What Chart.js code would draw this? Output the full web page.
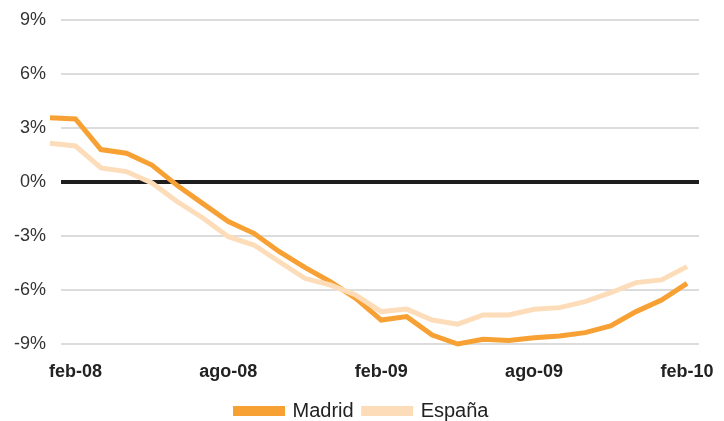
<!DOCTYPE html>
<html>
<head>
<meta charset="utf-8">
<script src="https://cdn.jsdelivr.net/npm/chart.js@4/dist/chart.umd.min.js"></script>
<style>
  html, body { margin: 0; padding: 0; background: #ffffff; }
  #wrap { width: 724px; height: 421px; }
</style>
</head>
<body>
<div id="wrap"><canvas id="c" width="724" height="421"></canvas></div>
<script>
// Monthly year-on-year change (%), Jan 2008 – Feb 2010
const months = [
  'ene-08','feb-08','mar-08','abr-08','may-08','jun-08','jul-08','ago-08','sep-08','oct-08','nov-08','dic-08',
  'ene-09','feb-09','mar-09','abr-09','may-09','jun-09','jul-09','ago-09','sep-09','oct-09','nov-09','dic-09',
  'ene-10','feb-10'
];
const madrid = [3.57, 3.5, 1.8, 1.6, 0.94, -0.2, -1.2, -2.2, -2.85, -3.87, -4.74, -5.54, -6.46,
                -7.67, -7.48, -8.5, -9.0, -8.74, -8.8, -8.65, -8.56, -8.37, -8.0, -7.2, -6.56, -5.63];
const espana = [2.15, 2.0, 0.78, 0.58, -0.05, -1.1, -2.0, -3.04, -3.5, -4.43, -5.35, -5.72, -6.28,
                -7.2, -7.06, -7.67, -7.9, -7.39, -7.39, -7.07, -6.98, -6.65, -6.15, -5.59, -5.44, -4.7];
const xTickLabels = ['feb-08', 'ago-08', 'feb-09', 'ago-09', 'feb-10'];
const yTicks = [-9, -6, -3, 0, 3, 6, 9];

const toPoints = arr => arr.map((v, i) => ({ x: i, y: v }));
const xTickValues = xTickLabels.map(l => months.indexOf(l));
const FONT = '"Liberation Sans", Arial, Helvetica, sans-serif';

// Keep the legend centred on the whole canvas rather than on the padded layout box
const centerLegend = {
  id: 'centerLegend',
  afterLayout(chart) {
    const lg = chart.legend;
    if (!lg) return;
    const shift = chart.width / 2 - (lg.left + lg.right) / 2;
    lg.left += shift;
    lg.right += shift;
  }
};

new Chart(document.getElementById('c'), {
  type: 'line',
  data: {
    datasets: [
      {
        label: 'Madrid',
        data: toPoints(madrid),
        borderColor: '#F7A135',
        backgroundColor: '#F7A135',
        borderWidth: 5,
        pointRadius: 0,
        tension: 0,
        clip: false,
        order: 1
      },
      {
        label: 'España',
        data: toPoints(espana),
        borderColor: '#FDDDB9',
        backgroundColor: '#FDDDB9',
        borderWidth: 5,
        pointRadius: 0,
        tension: 0,
        clip: false,
        order: 0
      }
    ]
  },
  plugins: [centerLegend],
  options: {
    responsive: false,
    animation: false,
    devicePixelRatio: 1,
    layout: { padding: { top: 20, right: 25, left: 0, bottom: -10 } },
    plugins: {
      tooltip: { enabled: false },
      legend: {
        position: 'bottom',
        labels: {
          sort: (a, b) => a.datasetIndex - b.datasetIndex,
          boxWidth: 47,
          boxHeight: 5,
          padding: 10,
          color: '#222222',
          font: { family: FONT, size: 20 }
        }
      }
    },
    scales: {
      x: {
        type: 'linear',
        min: 0.4317,
        max: 25.4707,
        grid: { display: false },
        border: { display: false },
        afterBuildTicks: scale => { scale.ticks = xTickValues.map(v => ({ value: v })); },
        afterFit: scale => { scale.height = 47; },
        ticks: {
          autoSkip: false,
          maxRotation: 0,
          padding: 0,
          color: '#222222',
          font: { family: FONT, size: 18, weight: 'bold', lineHeight: '40px' },
          callback: v => months[v]
        }
      },
      y: {
        min: -9,
        max: 9,
        afterBuildTicks: scale => { scale.ticks = yTicks.map(v => ({ value: v })); },
        afterFit: scale => { scale.width = 61; },
        border: { display: false },
        grid: {
          drawTicks: false,
          color: ctx => ctx.tick && ctx.tick.value === 0 ? '#1e1e1e' : '#dcdcdc',
          lineWidth: ctx => ctx.tick && ctx.tick.value === 0 ? 4 : 2
        },
        ticks: {
          padding: 15,
          color: '#333333',
          font: { family: FONT, size: 18, lineHeight: 0.5 },
          callback: v => v + '%'
        }
      }
    }
  }
});
</script>
</body>
</html>
